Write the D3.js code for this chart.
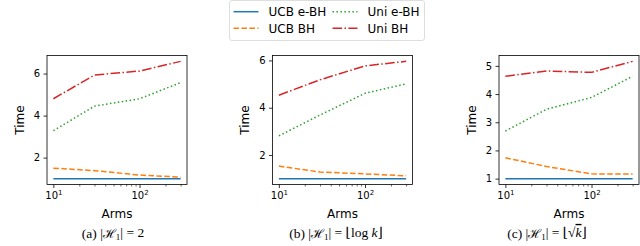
<!DOCTYPE html>
<html>
<head>
<meta charset="utf-8">
<script src="https://cdn.jsdelivr.net/npm/d3@7"></script>
<style>
  body { margin: 0; background: #fff; }
  svg { display: block; font-family: "DejaVu Sans", sans-serif; }
  .caption { font-family: "Liberation Serif", "DejaVu Serif", serif; }
</style>
</head>
<body>
<svg id="chart" width="640" height="246"></svg>
<script>
// number of arms (x values, log scale)
const arms = [10, 30, 100, 300]

// (a) |H1| = 2
const ucbEbhA = [1.0, 1.0, 1.0, 1.0]
const ucbBhA = [1.50, 1.38, 1.17, 1.07]
const uniEbhA = [3.28, 4.45, 4.80, 5.57]
const uniBhA = [4.80, 5.93, 6.12, 6.58]

// (b) |H1| = floor(log k)
const ucbEbhB = [1.0, 1.0, 1.0, 1.0]
const ucbBhB = [1.53, 1.28, 1.20, 1.12]
const uniEbhB = [2.81, 3.69, 4.61, 5.01]
const uniBhB = [4.53, 5.18, 5.77, 5.96]

// (c) |H1| = floor(sqrt k)
const ucbEbhC = [1.0, 1.0, 1.0, 1.0]
const ucbBhC = [1.74, 1.43, 1.17, 1.16]
const uniEbhC = [2.69, 3.46, 3.88, 4.63]
const uniBhC = [4.63, 4.82, 4.77, 5.16]

const seriesNames = ["UCB e-BH", "UCB BH", "Uni e-BH", "Uni BH"]
const yTicksA = [2, 4, 6]
const yTicksB = [2, 4, 6]
const yTicksC = [1, 2, 3, 4, 5]
const xMajor = [10, 100]
const xMinor = [20, 30, 40, 50, 60, 70, 80, 90, 200, 300]

const colours = ["#1f77b4", "#ff7f0e", "#2ca02c", "#d62728"]
const dashes = [null, "5.55,2.4", "1.5,2.475", "9.6,2.4,1.5,2.4"]

const svg = d3.select("#chart")

const panels = [
  { left: 47, series: [ucbEbhA, ucbBhA, uniEbhA, uniBhA], yTicks: yTicksA, yLabelX: 19.5, capX: 113, cap: "a" },
  { left: 272.5, series: [ucbEbhB, ucbBhB, uniEbhB, uniBhB], yTicks: yTicksB, yLabelX: 245, capX: 336, cap: "b" },
  { left: 499, series: [ucbEbhC, ucbBhC, uniEbhC, uniBhC], yTicks: yTicksC, yLabelX: 471.5, capX: 547, cap: "c" }
]

const W = 140, plotTop = 55.5, plotBottom = 184.5

panels.forEach(p => drawPanel(p))
drawLegend()

function drawPanel(p) {
  // matplotlib style 5% margins on both axes
  const lx = d3.extent(arms).map(Math.log10)
  const mx = (lx[1] - lx[0]) * 0.05
  const x = d3.scaleLog()
    .domain([10 ** (lx[0] - mx), 10 ** (lx[1] + mx)])
    .range([p.left, p.left + W])

  const all = p.series.flat()
  const ye = d3.extent(all)
  const my = (ye[1] - ye[0]) * 0.05
  const y = d3.scaleLinear()
    .domain([ye[0] - my, ye[1] + my])
    .range([plotBottom, plotTop])

  const g = svg.append("g")

  const line = d3.line()
    .x((d, i) => x(arms[i]))
    .y(d => y(d))

  p.series.forEach((s, i) => {
    g.append("path")
      .datum(s)
      .attr("d", line)
      .attr("fill", "none")
      .attr("stroke", colours[i])
      .attr("stroke-width", 1.5)
      .attr("stroke-dasharray", dashes[i])
  })

  // y axis
  const ya = g.append("g")
    .attr("transform", "translate(" + p.left + ",0)")
    .call(d3.axisLeft(y).tickValues(p.yTicks).tickSize(3.5).tickPadding(3.5).tickFormat(d3.format("d")))
  ya.select(".domain").remove()
  ya.selectAll(".tick line").attr("stroke-width", 0.8)
  ya.selectAll(".tick text").attr("font-size", 10).attr("font-family", "DejaVu Sans").attr("fill", "#000")

  // x axis, minor ticks first
  const xm = g.append("g")
    .attr("transform", "translate(0," + plotBottom + ")")
    .call(d3.axisBottom(x).tickValues(xMinor).tickSize(2).tickFormat(""))
  xm.select(".domain").remove()
  xm.selectAll(".tick line").attr("stroke-width", 0.6)

  const xa = g.append("g")
    .attr("transform", "translate(0," + plotBottom + ")")
    .call(d3.axisBottom(x).tickValues(xMajor).tickSize(3.5).tickPadding(3.5))
  xa.select(".domain").remove()
  xa.selectAll(".tick line").attr("stroke-width", 0.8)
  xa.selectAll(".tick text")
    .attr("font-size", 10)
    .attr("font-family", "DejaVu Sans")
    .attr("fill", "#000")
    .text(null)
    .each(function(d) {
      const t = d3.select(this)
      t.append("tspan").text("10")
      t.append("tspan").attr("font-size", 7).attr("dy", "-0.55em").text(Math.round(Math.log10(d)))
    })

  // frame
  g.append("rect")
    .attr("x", p.left)
    .attr("y", plotTop)
    .attr("width", W)
    .attr("height", plotBottom - plotTop)
    .attr("fill", "none")
    .attr("stroke", "#000")
    .attr("stroke-width", 0.8)

  // labels
  g.append("text")
    .attr("x", p.left + W / 2)
    .attr("y", 217.5)
    .attr("text-anchor", "middle")
    .attr("font-size", 12)
    .text("Arms")

  g.append("text")
    .attr("transform", "translate(" + p.yLabelX + "," + (plotTop + plotBottom) / 2 + ") rotate(-90)")
    .attr("text-anchor", "middle")
    .attr("dy", "0.35em")
    .attr("font-size", 12)
    .text("Time")

  // subfigure caption
  const c = g.append("text")
    .attr("class", "caption")
    .attr("x", p.capX)
    .attr("y", 238)
    .attr("text-anchor", "middle")
    .attr("font-size", 13.5)
  c.append("tspan").text("(" + p.cap + ") |")
  c.append("tspan").attr("font-family", "DejaVu Serif").attr("font-size", 12.5).text("ℋ")
  c.append("tspan").attr("font-size", 9).attr("dy", "0.25em").text("1")
  c.append("tspan").attr("dy", "-0.25em").text("| = ")
  if (p.cap == "a") {
    c.append("tspan").text("2")
  } else if (p.cap == "b") {
    c.append("tspan").text("⌊log ")
    c.append("tspan").attr("font-style", "italic").text("k")
    c.append("tspan").text("⌋")
  } else {
    c.append("tspan").text("⌊√")
    c.append("tspan").attr("font-style", "italic").attr("text-decoration", "overline").text("k")
    c.append("tspan").text("⌋")
  }
}

function drawLegend() {
  const lg = svg.append("g")
  lg.append("rect")
    .attr("x", 229.5)
    .attr("y", 0.5)
    .attr("width", 195)
    .attr("height", 40)
    .attr("rx", 2.5)
    .attr("fill", "#fff")
    .attr("stroke", "#d6d6d6")
    .attr("stroke-width", 0.8)

  const cols = [233.5, 332.5]
  const rows = [11.7, 28.3]
  seriesNames.forEach((name, i) => {
    const cx = cols[Math.floor(i / 2)]
    const cy = rows[i % 2]
    lg.append("line")
      .attr("x1", cx)
      .attr("x2", cx + 25)
      .attr("y1", cy)
      .attr("y2", cy)
      .attr("stroke", colours[i])
      .attr("stroke-width", 1.5)
      .attr("stroke-dasharray", dashes[i])
    lg.append("text")
      .attr("x", cx + 35)
      .attr("y", cy)
      .attr("dy", "0.36em")
      .attr("font-size", 12)
      .text(name)
  })
}
</script>
</body>
</html>
